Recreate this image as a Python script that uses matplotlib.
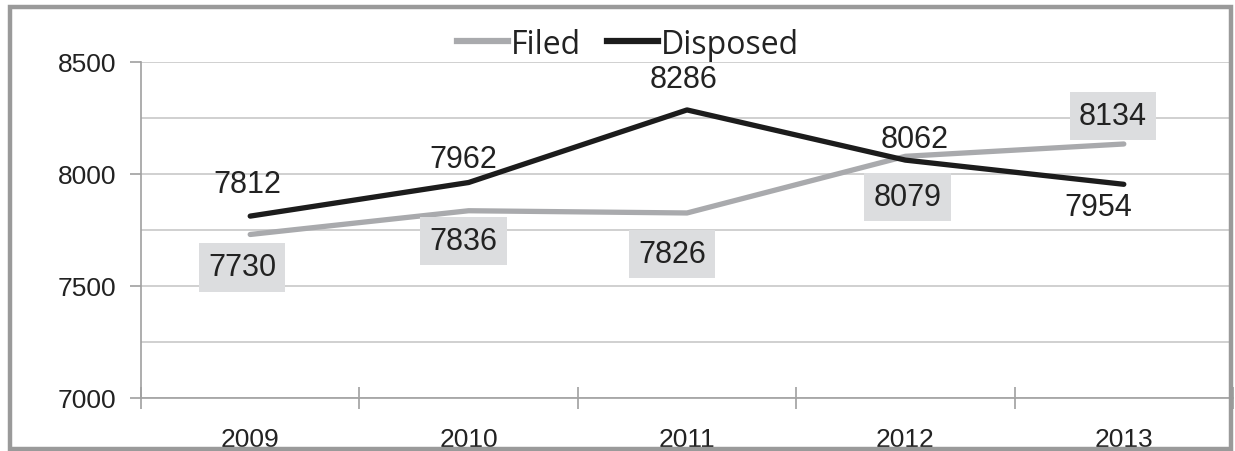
import matplotlib
matplotlib.use('Agg')
import matplotlib.pyplot as plt
from matplotlib.patches import Rectangle
from matplotlib.lines import Line2D

# data
years = ['2009', '2010', '2011', '2012', '2013']
filed = [7730, 7836, 7826, 8079, 8134]
disposed = [7812, 7962, 8286, 8062, 7954]

num_font = ['Liberation Sans', 'DejaVu Sans']
leg_font = ['Open Sans', 'DejaVu Sans']

# label offsets in pixels (dx, dy)
filed_off = [(-8, -33), (-5, -30), (-15, -41), (2, -41), (-11, 28)]
disp_off = [(-3, 32), (-5, 24), (-3, 31), (9, 21), (-26, -23)]

fig = plt.figure(figsize=(12.35, 4.52), dpi=100)
ax = fig.add_axes([141 / 1235, 1 - 399 / 452, (1233 - 141) / 1235, 336 / 452])

x = list(range(len(years)))
ax.plot(x, filed, color='#a9aaad', lw=3.8, solid_capstyle='round', zorder=3)
ax.plot(x, disposed, color='#1c1c1c', lw=3.8, solid_capstyle='round', zorder=4)

ax.set_xlim(-0.5, 4.5)
ax.set_ylim(7000, 8500)

# y axis
ax.set_yticks([7000, 7500, 8000, 8500])
ax.set_yticks([7250, 7750, 8250], minor=True)
ax.grid(axis='y', which='both', color='#c8c8c8', lw=1.2)
ax.tick_params(axis='y', which='major', length=8, color='#a0a0a0', width=1.2,
               pad=10, labelsize=19, labelcolor='#222222')
ax.tick_params(axis='y', which='minor', length=0)
for t in ax.get_yticklabels():
    t.set_family(num_font)

# x axis: labels at centres, tick marks at boundaries
ax.set_xticks(x)
ax.set_xticklabels(years)
ax.set_xticks([-0.5, 0.5, 1.5, 2.5, 3.5, 4.5], minor=True)
ax.tick_params(axis='x', which='major', length=0, pad=21, labelsize=19,
               labelcolor='#222222')
ax.tick_params(axis='x', which='minor', length=16, direction='inout',
               color='#a0a0a0', width=1.2)
for t in ax.get_xticklabels():
    t.set_family(num_font)

for s in ['top', 'right']:
    ax.spines[s].set_visible(False)
for s in ['left', 'bottom']:
    ax.spines[s].set_color('#a0a0a0')
    ax.spines[s].set_linewidth(1.2)

# data labels
for i, v in enumerate(filed):
    ax.annotate(str(v), (i, v), xytext=filed_off[i], textcoords='offset pixels',
                ha='center', va='center', fontsize=22, family=num_font,
                color='#222222', zorder=6,
                bbox=dict(boxstyle='square,pad=0.3', fc='#dcdddf', ec='none'))
for i, v in enumerate(disposed):
    ax.annotate(str(v), (i, v), xytext=disp_off[i], textcoords='offset pixels',
                ha='center', va='center', fontsize=22, family=num_font,
                color='#222222', zorder=6)

# legend
handles = [Line2D([], [], color='#a9aaad', lw=4.5),
           Line2D([], [], color='#1c1c1c', lw=4.5)]
fig.legend(handles, ['Filed', 'Disposed'], loc='center', ncol=2,
           bbox_to_anchor=(628 / 1235, 1 - 45 / 452), frameon=False,
           prop={'family': leg_font, 'size': 23}, handlelength=1.6,
           handletextpad=0.1, columnspacing=0.8, labelcolor='#222222')

# outer border
fig.patches.append(Rectangle((10 / 1235, 2 / 452), 1221 / 1235, 442 / 452,
                             transform=fig.transFigure, fill=False,
                             ec='#9a9a9a', lw=3.2, zorder=10))

fig.savefig('out.png', dpi=100)
